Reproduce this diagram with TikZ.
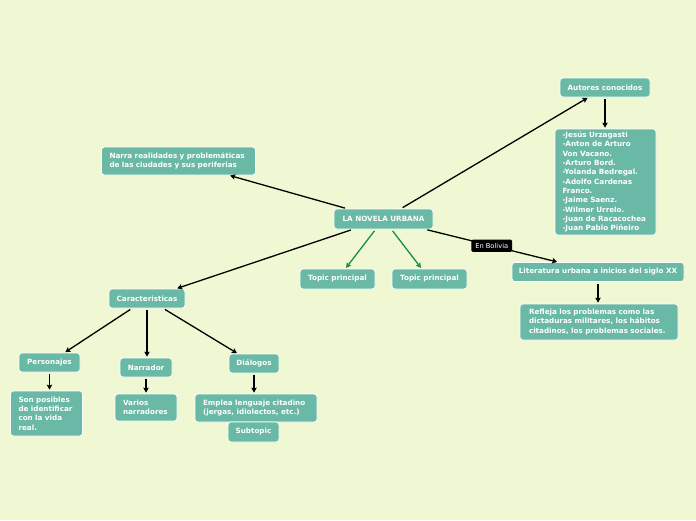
\documentclass[tikz,border=0pt]{standalone}
\usepackage{fontspec}
\setmainfont{DejaVu Sans}
\usetikzlibrary{arrows.meta}
\definecolor{bgcol}{RGB}{239,248,211}
\definecolor{boxcol}{RGB}{106,184,166}
\definecolor{grncol}{RGB}{30,140,70}
\tikzset{
  mblk/.style={draw=white, line width=0.7pt, fill=boxcol, rounded corners=3pt, text=white,
               font=\fontsize{7.2}{9.3}\selectfont\bfseries, inner xsep=4pt, inner ysep=2pt,
               align=center},
  mtxt/.style={mblk, align=left, inner xsep=8pt},
  mlbl/.style={fill=black, text=white, rounded corners=1.5pt, font=\fontsize{6.7}{8}\selectfont,
               inner xsep=4pt, inner ysep=3.5pt},   % label on a connector
  marr/.style={-{Stealth[length=5pt, width=5.5pt, inset=1pt]}, line width=1.3pt,
               shorten <=2pt, shorten >=1pt},
  mgrn/.style={marr, draw=grncol},
}
\begin{document}
\begin{tikzpicture}[x=1pt, y=-1pt]
  \fill[bgcol] (0,0) rectangle (696,520);
  \node[mblk, minimum width=99pt, minimum height=20pt] (novela) at (383.5,219) {LA NOVELA URBANA};
  \node[mtxt, text width=138pt, minimum height=28pt] (narra) at (178.5,161)
    {Narra realidades y problemáticas\\de las ciudades y sus periferias};
  \node[mblk, minimum width=90pt, minimum height=19pt] (autores) at (605,87.5) {Autores conocidos};
  \node[mtxt, text width=86pt, minimum height=106pt, inner xsep=7.5pt] (lista) at (605.5,182)
    {-Jesús Urzagasti\\-Anton de Arturo\\Von Vacano.\\-Arturo Bord.\\-Yolanda Bedregal.\\
     -Adolfo Cardenas\\Franco.\\-Jaime Saenz.\\-Wilmer Urrelo.\\-Juan de Racacochea\\
     -Juan Pablo Piñeiro};
  \node[mblk, minimum width=75pt, minimum height=20pt] (topicA) at (337.5,279) {Topic principal};
  \node[mblk, minimum width=75pt, minimum height=20pt] (topicB) at (429.5,279) {Topic principal};
  \node[mblk, minimum width=172pt, minimum height=19pt] (literatura) at (598,272)
    {Literatura urbana a inicios del siglo XX};
  \node[mtxt, text width=140pt, minimum height=36pt, inner xsep=9pt] (refleja) at (599,322)
    {Refleja los problemas como las\\dictaduras militares, los hábitos\\citadinos, los problemas sociales.};
  \node[mblk, minimum width=76pt, minimum height=19pt] (caract) at (147,298.5) {Caracteristicas};
  \node[mblk, minimum width=61pt, minimum height=19pt] (personajes) at (49.5,362.5) {Personajes};
  \node[mtxt, text width=56pt, minimum height=45pt] (posibles) at (46.5,413.5)
    {Son posibles\\de identificar\\con la vida\\real.};
  \node[mblk, minimum width=52pt, minimum height=19pt] (narrador) at (146,367.5) {Narrador};
  \node[mtxt, text width=46pt, minimum height=27pt] (varios) at (146,407.5) {Varios\\narradores};
  \node[mblk, minimum width=50pt, minimum height=19pt] (dialogos) at (254,363.5) {Diálogos};
  \node[mtxt, text width=106pt, minimum height=28pt] (emplea) at (256,408)
    {Emplea lenguaje citadino\\(jergas, idiolectos, etc.)};
  \node[mblk, minimum width=51pt, minimum height=20pt] (subtopic) at (253.5,432) {Subtopic};

  \draw[marr] (novela) -- (narra);
  \draw[marr] (novela) -- (autores);
  \draw[marr] (novela) -- (caract);
  \draw[mgrn] (novela) -- (topicA);
  \draw[mgrn] (novela) -- (topicB);
  \draw[marr] (novela) -- node[mlbl, pos=0.5] (bolivia) {En Bolivia} (literatura);
  \draw[marr] (autores.south) -- (autores.south |- lista.north);
  \draw[marr] (literatura.south) -- (literatura.south |- refleja.north);
  \draw[marr] (caract) -- (personajes);
  \draw[marr] (caract.south) -- (caract.south |- narrador.north);
  \draw[marr] (caract) -- (dialogos);
  \draw[marr] (personajes.south) -- (personajes.south |- posibles.north);
  \draw[marr] (narrador.south) -- (narrador.south |- varios.north);
  \draw[marr] (dialogos.south) -- (dialogos.south |- emplea.north);
\end{tikzpicture}
\end{document}
